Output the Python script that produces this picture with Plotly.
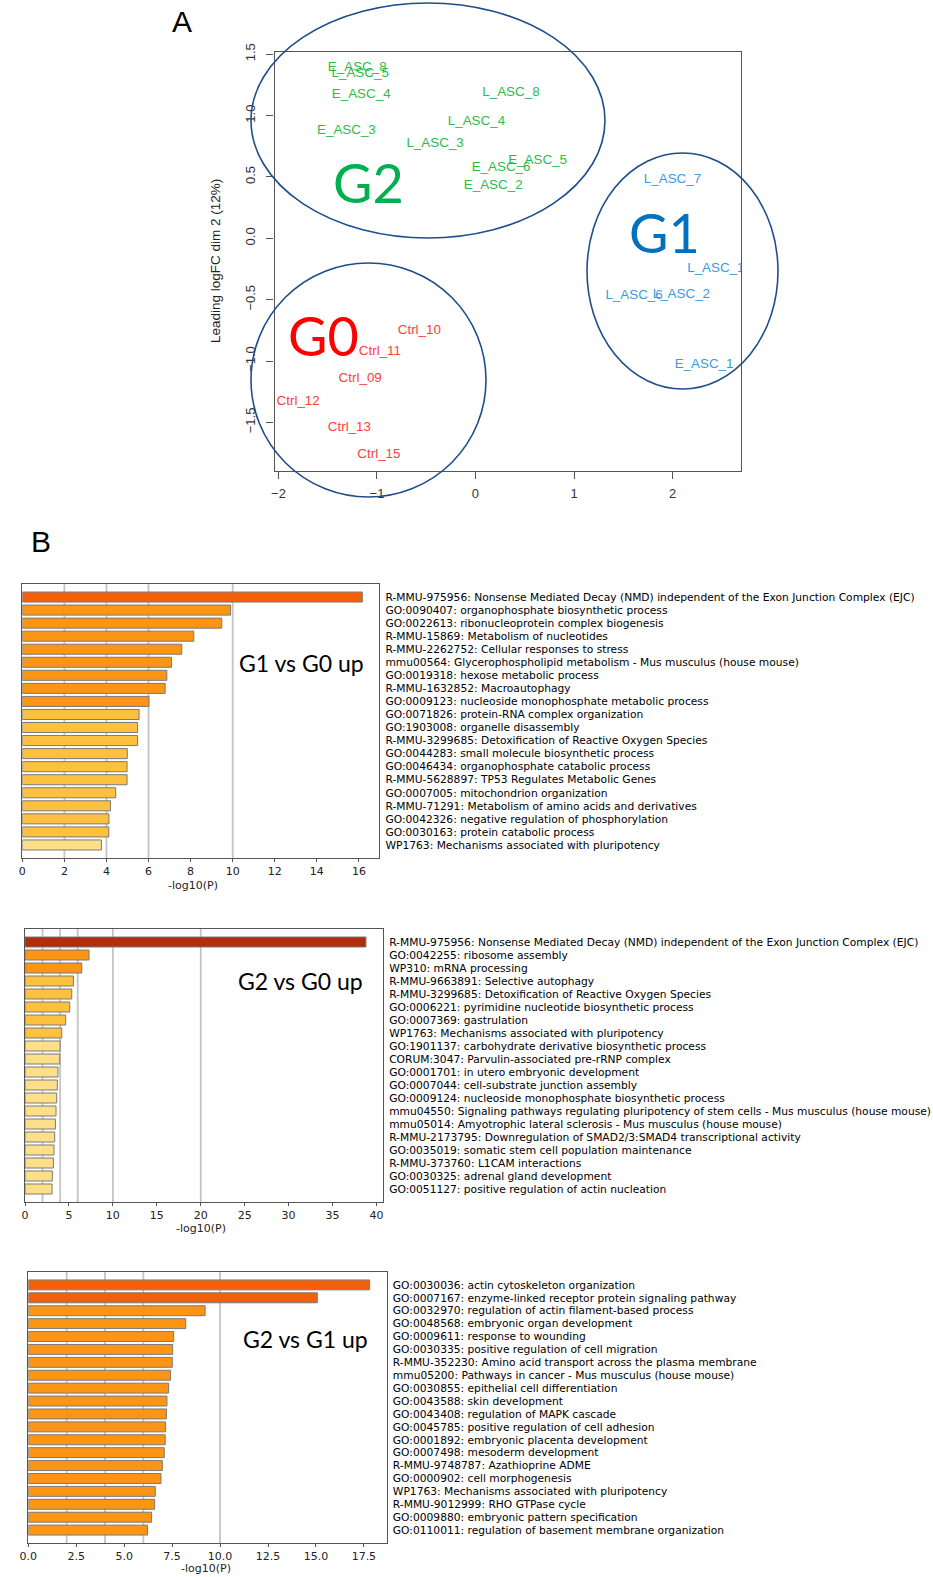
import plotly.graph_objects as go

W, H = 933, 1577

# ---------------- Panel A data ----------------
g2_labels = ["E_ASC_8", "L_ASC_5", "E_ASC_4", "L_ASC_8", "L_ASC_4", "E_ASC_3", "L_ASC_3", "E_ASC_6", "E_ASC_5", "E_ASC_2"]
g2_x = [-1.20, -1.17, -1.16, 0.36, 0.01, -1.31, -0.41, 0.26, 0.63, 0.18]
g2_y = [1.39, 1.34, 1.17, 1.19, 0.95, 0.88, 0.77, 0.58, 0.63, 0.43]

g1_labels = ["L_ASC_7", "L_ASC_1", "L_ASC_6", "L_ASC_2", "E_ASC_1"]
g1_x = [2.00, 2.44, 1.61, 2.09, 2.32]
g1_y = [0.48, -0.25, -0.47, -0.46, -1.03]

g0_labels = ["Ctrl_10", "Ctrl_11", "Ctrl_09", "Ctrl_12", "Ctrl_13", "Ctrl_15"]
g0_x = [-0.57, -0.97, -1.17, -1.80, -1.28, -0.98]
g0_y = [-0.75, -0.92, -1.14, -1.33, -1.54, -1.76]

a_xticks = [-2, -1, 0, 1, 2]
a_yticks = [-1.5, -1.0, -0.5, 0.0, 0.5, 1.0, 1.5]

# ---------------- Panel B data ----------------
terms1 = [
    "R-MMU-975956: Nonsense Mediated Decay (NMD) independent of the Exon Junction Complex (EJC)",
    "GO:0090407: organophosphate biosynthetic process",
    "GO:0022613: ribonucleoprotein complex biogenesis",
    "R-MMU-15869: Metabolism of nucleotides",
    "R-MMU-2262752: Cellular responses to stress",
    "mmu00564: Glycerophospholipid metabolism - Mus musculus (house mouse)",
    "GO:0019318: hexose metabolic process",
    "R-MMU-1632852: Macroautophagy",
    "GO:0009123: nucleoside monophosphate metabolic process",
    "GO:0071826: protein-RNA complex organization",
    "GO:1903008: organelle disassembly",
    "R-MMU-3299685: Detoxification of Reactive Oxygen Species",
    "GO:0044283: small molecule biosynthetic process",
    "GO:0046434: organophosphate catabolic process",
    "R-MMU-5628897: TP53 Regulates Metabolic Genes",
    "GO:0007005: mitochondrion organization",
    "R-MMU-71291: Metabolism of amino acids and derivatives",
    "GO:0042326: negative regulation of phosphorylation",
    "GO:0030163: protein catabolic process",
    "WP1763: Mechanisms associated with pluripotency",
]
vals1 = [16.16, 9.90, 9.48, 8.15, 7.58, 7.09, 6.87, 6.79, 6.02, 5.55,
         5.48, 5.48, 4.99, 4.98, 4.98, 4.44, 4.19, 4.12, 4.11, 3.76]

terms2 = [
    "R-MMU-975956: Nonsense Mediated Decay (NMD) independent of the Exon Junction Complex (EJC)",
    "GO:0042255: ribosome assembly",
    "WP310: mRNA processing",
    "R-MMU-9663891: Selective autophagy",
    "R-MMU-3299685: Detoxification of Reactive Oxygen Species",
    "GO:0006221: pyrimidine nucleotide biosynthetic process",
    "GO:0007369: gastrulation",
    "WP1763: Mechanisms associated with pluripotency",
    "GO:1901137: carbohydrate derivative biosynthetic process",
    "CORUM:3047: Parvulin-associated pre-rRNP complex",
    "GO:0001701: in utero embryonic development",
    "GO:0007044: cell-substrate junction assembly",
    "GO:0009124: nucleoside monophosphate biosynthetic process",
    "mmu04550: Signaling pathways regulating pluripotency of stem cells - Mus musculus (house mouse)",
    "mmu05014: Amyotrophic lateral sclerosis - Mus musculus (house mouse)",
    "R-MMU-2173795: Downregulation of SMAD2/3:SMAD4 transcriptional activity",
    "GO:0035019: somatic stem cell population maintenance",
    "R-MMU-373760: L1CAM interactions",
    "GO:0030325: adrenal gland development",
    "GO:0051127: positive regulation of actin nucleation",
]
vals2 = [38.8, 7.29, 6.46, 5.51, 5.32, 5.09, 4.63, 4.18, 3.99, 3.95,
         3.76, 3.68, 3.61, 3.53, 3.46, 3.38, 3.30, 3.23, 3.11, 3.08]

terms3 = [
    "GO:0030036: actin cytoskeleton organization",
    "GO:0007167: enzyme-linked receptor protein signaling pathway",
    "GO:0032970: regulation of actin filament-based process",
    "GO:0048568: embryonic organ development",
    "GO:0009611: response to wounding",
    "GO:0030335: positive regulation of cell migration",
    "R-MMU-352230: Amino acid transport across the plasma membrane",
    "mmu05200: Pathways in cancer - Mus musculus (house mouse)",
    "GO:0030855: epithelial cell differentiation",
    "GO:0043588: skin development",
    "GO:0043408: regulation of MAPK cascade",
    "GO:0045785: positive regulation of cell adhesion",
    "GO:0001892: embryonic placenta development",
    "GO:0007498: mesoderm development",
    "R-MMU-9748787: Azathioprine ADME",
    "GO:0000902: cell morphogenesis",
    "WP1763: Mechanisms associated with pluripotency",
    "R-MMU-9012999: RHO GTPase cycle",
    "GO:0009880: embryonic pattern specification",
    "GO:0110011: regulation of basement membrane organization",
]
vals3 = [17.80, 15.07, 9.22, 8.21, 7.58, 7.53, 7.51, 7.42, 7.32, 7.23,
         7.20, 7.16, 7.14, 7.09, 6.99, 6.92, 6.62, 6.59, 6.43, 6.22]

chart_titles = ["G1 vs G0 up", "G2 vs G0 up", "G2 vs G1 up"]
threshold_lines = [2, 4, 6, 10, 20]


# ---------------- helpers ----------------
def xd(x0, x1):
    return [x0 / W, x1 / W]


def yd(top, bottom):
    return [1 - bottom / H, 1 - top / H]


def px(x):
    return x / W


def py(y):
    return 1 - y / H


def note(text, x, y, font, angle=0):
    return dict(text=text, x=px(x), y=py(y), xref="paper", yref="paper", showarrow=False,
                xanchor="center", yanchor="middle", textangle=angle, font=font)


def bar_color(v):
    if v >= 20:
        return "#b02e0c"
    if v >= 10:
        return "#f4600a"
    if v >= 6:
        return "#fd9514"
    if v >= 4:
        return "#fec13f"
    return "#fedf89"


fig = go.Figure()

# ---------------- Panel A ----------------
for labels, xs, ys, col in [
    (g2_labels, g2_x, g2_y, "#2fba4c"),
    (g1_labels, g1_x, g1_y, "#3b9ade"),
    (g0_labels, g0_x, g0_y, "#ff3d3d"),
]:
    fig.add_trace(go.Scatter(
        x=xs, y=ys, text=labels, mode="text", textposition="middle center",
        textfont=dict(family="Liberation Sans, Arial", size=13.4, color=col),
        cliponaxis=True, hoverinfo="skip", showlegend=False,
        xaxis="x", yaxis="y"))

tickfontA = dict(family="Liberation Sans, Arial", size=13, color="#333")
fig.update_layout(
    xaxis=dict(domain=xd(274.5, 741), range=[-2.04, 2.695], tickvals=a_xticks,
               ticktext=[str(v) if v >= 0 else "\u2212" + str(-v) for v in a_xticks],
               showline=True, mirror=True, linecolor="#555", linewidth=1.3,
               ticks="outside", ticklen=7, tickcolor="#555", showgrid=False,
               zeroline=False, tickfont=tickfontA, anchor="y", automargin=False,
               ticklabelstandoff=4),
    yaxis=dict(domain=yd(52.3, 470.5), range=[-1.892, 1.516], tickvals=a_yticks,
               ticktext=[("\u2212" + f"{-v:.1f}") if v < 0 else f"{v:.1f}" for v in a_yticks],
               showline=True, mirror=True, linecolor="#555", linewidth=1.3,
               ticks="outside", ticklen=7, tickcolor="#555", showgrid=False,
               zeroline=False, tickfont=tickfontA, tickangle=-90, anchor="x", automargin=False,
               ticklabelstandoff=6),
)

shapes = []
# ellipses around groups
for (x0, y0, x1, y1) in [(251, 3, 605, 238), (587, 153, 778, 389), (251, 263, 486, 497)]:
    shapes.append(dict(type="circle", xref="paper", yref="paper",
                       x0=px(x0), x1=px(x1), y0=py(y1), y1=py(y0),
                       line=dict(color="#1f4d8c", width=1.6)))

annotations = [
    note("A", 182, 22, dict(family="Liberation Sans, Arial", size=30, color="black")),
    note("B", 41, 541, dict(family="Liberation Sans, Arial", size=30, color="black")),
    note("Leading logFC dim 2 (12%)", 216, 261,
         dict(family="Liberation Sans, Arial", size=13.5, color="#222"), angle=-90),
    note("G2", 368, 182, dict(family="Lato", size=54, color="#00b050")),
    note("G1", 664, 233, dict(family="Lato", size=54, color="#0070c0")),
    note("G0", 323, 335, dict(family="Lato", size=54, color="#ff0000")),
]

# ---------------- Panel B ----------------
charts = [
    (terms1, vals1, (22.3, 379.3, 584, 858), 2, None, (301, 663), (193, 885)),
    (terms2, vals2, (25.0, 383.0, 929, 1202), 5, None, (300, 981), (201, 1228)),
    (terms3, vals3, (28.3, 386.7, 1272, 1543), 2.5, ".1f", (305, 1339), (206, 1568)),
]
tickfontB = dict(family="DejaVu Sans", size=11, color="#222")
for i, (terms, vals, (l, r, t, b), dtick, fmt, tpos, lpos) in enumerate(charts):
    n = i + 2
    xa, ya = f"x{n}", f"y{n}"
    xmax = max(vals) * 1.05
    fig.add_trace(go.Bar(
        x=vals, y=terms, orientation="h",
        marker=dict(color=[bar_color(v) for v in vals], line=dict(color="#7a7a7a", width=1)),
        xaxis=xa, yaxis=ya, showlegend=False, hoverinfo="skip"))
    xkw = dict(domain=xd(l, r), range=[0, xmax], dtick=dtick, tick0=0,
               showline=True, mirror=True, linecolor="#555", linewidth=1,
               ticks="outside", ticklen=3, tickcolor="#555", showgrid=False,
               zeroline=False, tickfont=tickfontB, anchor=ya, automargin=False)
    if fmt:
        xkw["tickformat"] = fmt
    ykw = dict(domain=yd(t, b), range=[len(terms), -1.0], type="category",
               categoryorder="array", categoryarray=terms,
               tickmode="array", tickvals=terms, ticktext=terms,
               side="right", showline=True, mirror=True, linecolor="#555", linewidth=1,
               ticks="", showgrid=False, zeroline=False, automargin=False,
               ticklabelstandoff=3,
               tickfont=dict(family="DejaVu Sans", size=10.7, color="black"), anchor=xa)
    fig.update_layout(**{f"xaxis{n}": xkw, f"yaxis{n}": ykw})
    for v in threshold_lines:
        if v < xmax:
            shapes.append(dict(type="line", xref=xa, yref=f"{ya} domain", x0=v, x1=v, y0=0, y1=1,
                               layer="below", line=dict(color="#c4c4c4", width=1.8)))
    annotations.append(note(chart_titles[i], tpos[0], tpos[1],
                            dict(family="Lato", size=23, color="black")))
    annotations.append(note("-log10(P)", lpos[0], lpos[1],
                            dict(family="DejaVu Sans", size=11, color="#222")))

fig.update_layout(
    width=W, height=H, margin=dict(l=0, r=0, t=0, b=0, autoexpand=False),
    paper_bgcolor="white", plot_bgcolor="white",
    bargap=0.23, shapes=shapes, annotations=annotations,
)

fig.write_html("out.html", config={"displayModeBar": False},
               post_script="document.body.style.margin='0';document.body.style.overflow='hidden';")
